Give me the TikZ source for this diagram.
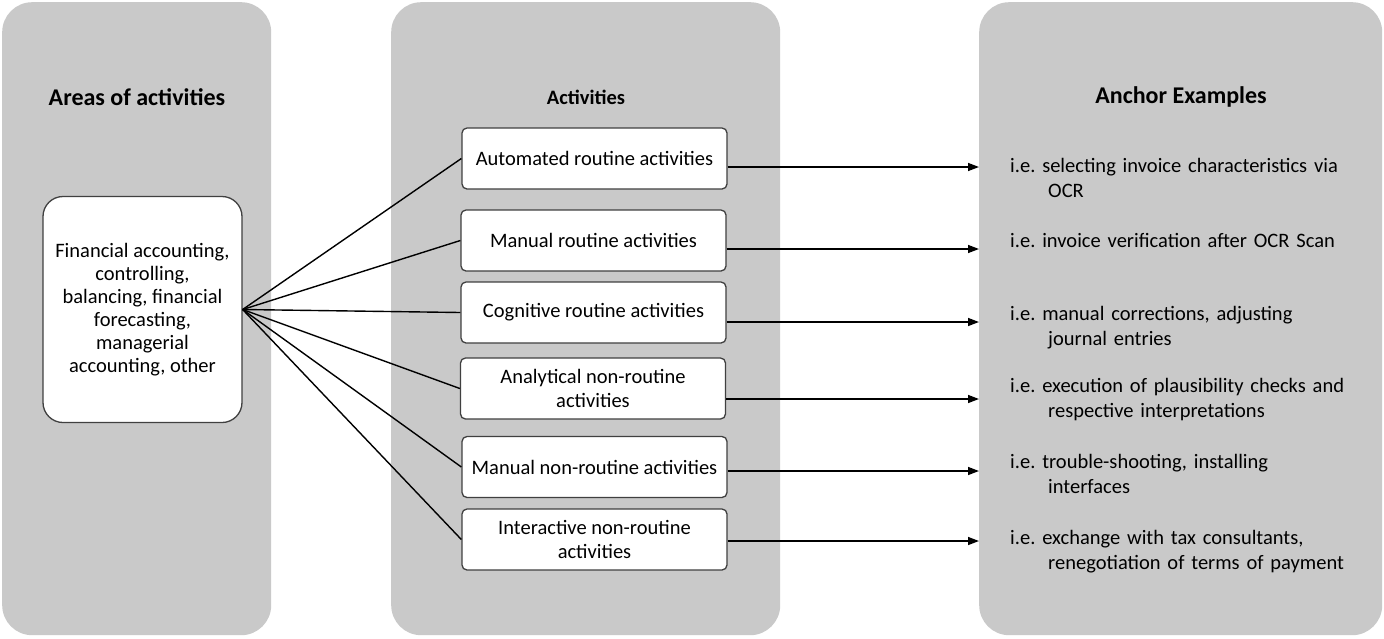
\documentclass[tikz,border=0pt]{standalone}
\usepackage{fontspec}
\setmainfont{Carlito}
\usetikzlibrary{calc,arrows.meta}
\definecolor{panelgray}{RGB}{201,201,201}
\definecolor{boxline}{RGB}{64,64,64}
\frenchspacing
\begin{document}
\begin{tikzpicture}[x=1pt,y=-1pt,
  panel/.style={fill=panelgray, draw=none, rounded corners=30pt, anchor=north west, inner sep=0pt},
  title/.style={font=\fontsize{24}{28}\selectfont\bfseries, inner sep=0pt},
  areabox/.style={draw=boxline, line width=1.3pt, fill=white, rounded corners=20pt,
    minimum width=199pt, minimum height=226pt, align=center, inner sep=0pt,
    font=\fontsize{20.5}{23}\selectfont},
  actbox/.style={draw=boxline, line width=1.3pt, fill=white, rounded corners=5pt,
    minimum width=265pt, minimum height=61pt, align=center, inner sep=0pt,
    font=\fontsize{20.5}{24}\selectfont},
  example/.style={anchor=base west, inner sep=0pt, text width=370pt, align=left,
    font=\fontsize{20.5}{25}\selectfont},
  link/.style={line width=1.4pt, black},
  arr/.style={line width=1.4pt, black, -{Triangle[length=11pt,width=8pt]}}
]
\useasboundingbox (0,0) rectangle (1384,638);
\fill[white] (0,0) rectangle (1384,638);

% panels
\node[panel, minimum width=269pt, minimum height=633pt] (lp) at (2,2) {};
\node[panel, minimum width=389pt, minimum height=633pt] (mp) at (391,2) {};
\node[panel, minimum width=403pt, minimum height=633pt] (rp) at (979,2) {};

% titles
\node[title] (t1) at (137,97) {Areas of activities};
\node[title, font=\fontsize{20.5}{24}\selectfont\bfseries] (t2) at (586,97) {Activities};
\node[title] (t3) at (1181,97) {Anchor Examples};

% area box
\node[areabox] (area) at (142.5,309.5) {Financial accounting,\\controlling,\\balancing, financial\\forecasting,\\managerial\\accounting, other};

% activity boxes
\node[actbox] (b1) at (594.5,158.5) {Automated routine activities};
\node[actbox] (b2) at (593.5,240.5) {Manual routine activities};
\node[actbox] (b3) at (593.5,312.5) {Cognitive routine activities};
\node[actbox] (b4) at (593,388.5) {Analytical non-routine\\activities};
\node[actbox] (b5) at (594.5,467) {Manual non-routine activities};
\node[actbox] (b6) at (594.5,539.5) {Interactive non-routine\\activities};

% connectors from area box
\foreach \b in {b1,b2,b3,b4,b5,b6}{
  \draw[link] (area.east) -- (\b.west);
}

% examples
\node[example] (e1) at (1010,172) {i.e. selecting invoice characteristics via\\\hspace*{38pt}OCR};
\node[example] (e2) at (1010,247) {i.e. invoice verification after OCR Scan};
\node[example] (e3) at (1010,320) {i.e. manual corrections, adjusting\\\hspace*{38pt}journal entries};
\node[example] (e4) at (1010,392) {i.e. execution of plausibility checks and\\\hspace*{38pt}respective interpretations};
\node[example] (e5) at (1010,468) {i.e. trouble-shooting, installing\\\hspace*{38pt}interfaces};
\node[example] (e6) at (1010,544) {i.e. exchange with tax consultants,\\\hspace*{38pt}renegotiation of terms of payment};

% arrows
\draw[arr] ([yshift=-8.5pt]b1.east) -- ([yshift=-8.5pt]b1.east -| rp.west);
\draw[arr] ([yshift=-8.5pt]b2.east) -- ([yshift=-8.5pt]b2.east -| rp.west);
\draw[arr] ([yshift=-9.5pt]b3.east) -- ([yshift=-9.5pt]b3.east -| rp.west);
\draw[arr] ([yshift=-10.5pt]b4.east) -- ([yshift=-10.5pt]b4.east -| rp.west);
\draw[arr] ([yshift=-4pt]b5.east) -- ([yshift=-4pt]b5.east -| rp.west);
\draw[arr] ([yshift=-1.5pt]b6.east) -- ([yshift=-1.5pt]b6.east -| rp.west);
\end{tikzpicture}
\end{document}
